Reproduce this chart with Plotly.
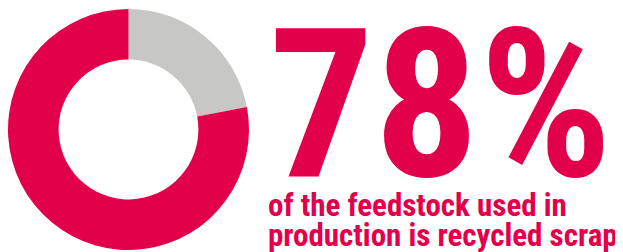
import plotly.graph_objects as go

labels = ["Other feedstock", "Recycled scrap"]
values = [22, 78]
colors = ["#C7C7C6", "#E3004A"]
big_text = "78%"
sub_line1 = "of the feedstock used in"
sub_line2 = "production is recycled scrap"

# page body has an 8px margin; size the figure to fit the window
W, H, OFF = 615, 244, 8

def px(x):
    return (x - OFF) / W

def py(y):
    return 1 - (y - OFF) / H

fig = go.Figure()
fig.add_trace(go.Pie(
    labels=labels, values=values, hole=0.58, sort=False,
    direction="clockwise", rotation=0,
    marker=dict(colors=colors, line=dict(width=0)),
    textinfo="none", hoverinfo="label+percent",
    domain=dict(x=[px(8), px(249)], y=[py(250), py(9)]),
    showlegend=False,
))

red = "#E3004A"
font_family = "Roboto Condensed, Open Sans Condensed, sans-serif"
fig.add_annotation(text=big_text, x=px(267), y=py(105), xref="paper", yref="paper",
                   xanchor="left", yanchor="middle", showarrow=False,
                   font=dict(family=font_family, size=208, color=red, weight="bold"))
fig.add_annotation(text=sub_line1, x=px(266), y=py(205), xref="paper", yref="paper",
                   xanchor="left", yanchor="middle", showarrow=False,
                   font=dict(family=font_family, size=31, color=red, weight="bold"))
fig.add_annotation(text=sub_line2, x=px(266), y=py(235), xref="paper", yref="paper",
                   xanchor="left", yanchor="middle", showarrow=False,
                   font=dict(family=font_family, size=31, color=red, weight="bold"))

fig.update_layout(width=W, height=H, margin=dict(l=0, r=0, t=0, b=0),
                  paper_bgcolor="white", plot_bgcolor="white")
fig.write_html("out.html")
